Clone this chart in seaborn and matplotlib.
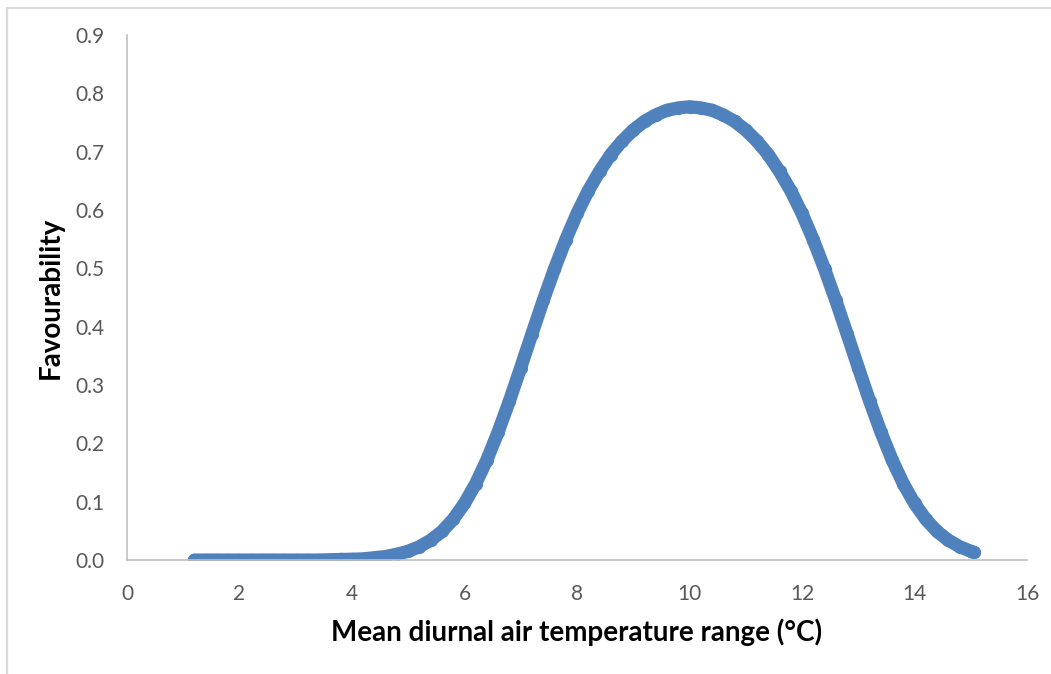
import numpy as np
import pandas as pd
import seaborn as sns
import matplotlib.pyplot as plt
from matplotlib.lines import Line2D

# values
temp_range = [1.2, 1.4, 1.6, 1.8, 2.0, 2.2, 2.4, 2.6, 2.8, 3.0, 3.2, 3.4, 3.6, 3.8,
              4.0, 4.2, 4.4, 4.6, 4.8, 5.0, 5.2, 5.4, 5.6, 5.8, 6.0, 6.2, 6.4, 6.6,
              6.8, 7.0, 7.2, 7.4, 7.6, 7.8, 8.0, 8.2, 8.4, 8.6, 8.8, 9.0, 9.2, 9.4,
              9.6, 9.8, 10.0, 10.2, 10.4, 10.6, 10.8, 11.0, 11.2, 11.4, 11.6, 11.8,
              12.0, 12.2, 12.4, 12.6, 12.8, 13.0, 13.2, 13.4, 13.6, 13.8, 14.0,
              14.2, 14.4, 14.6, 14.8, 15.0, 15.05]
favourability = [0.0, 0.0, 0.0, 0.0, 0.0, 0.0, 0.0, 0.0, 0.0, 0.0, 0.0, 0.0, 0.0005, 0.001,
                 0.0014, 0.002, 0.004, 0.006, 0.010, 0.015, 0.023, 0.034, 0.049, 0.070,
                 0.097, 0.131, 0.172, 0.220, 0.273, 0.330, 0.388, 0.445, 0.499, 0.549,
                 0.594, 0.633, 0.666, 0.695, 0.718, 0.737, 0.752, 0.763, 0.771, 0.775,
                 0.777, 0.775, 0.771, 0.763, 0.752, 0.737, 0.718, 0.695, 0.666, 0.633,
                 0.594, 0.549, 0.499, 0.445, 0.388, 0.330, 0.273, 0.220, 0.172, 0.131,
                 0.097, 0.070, 0.049, 0.034, 0.023, 0.015, 0.013]

x_ticks = [0, 2, 4, 6, 8, 10, 12, 14, 16]
y_ticks = [0.0, 0.1, 0.2, 0.3, 0.4, 0.5, 0.6, 0.7, 0.8, 0.9]

df = pd.DataFrame({'x': temp_range, 'y': favourability})

sns.set_theme(style='white')
plt.rcParams['font.family'] = ['Lato', 'DejaVu Sans']

blue = '#4F81BD'
grey = '#BFBFBF'

fig = plt.figure(figsize=(10.51, 6.74), dpi=100)
ax = fig.add_axes([0.1208, 0.1691, 0.8564, 0.7790])

# dense scatter in the original reads as a thick band
sns.lineplot(data=df, x='x', y='y', ax=ax, color=blue, linewidth=9.5,
             solid_capstyle='round', solid_joinstyle='round')
sns.scatterplot(data=df, x='x', y='y', ax=ax, color=blue, s=92, linewidth=0)

ax.set_xlim(0, 16)
ax.set_ylim(0, 0.9)
ax.set_xticks(x_ticks)
ax.set_yticks(y_ticks)
ax.set_xticklabels([str(t) for t in x_ticks])
ax.set_yticklabels([f'{t:.1f}' for t in y_ticks])
ax.tick_params(axis='both', length=0, labelsize=15, labelcolor='#595959')
ax.tick_params(axis='x', pad=17)
ax.tick_params(axis='y', pad=16)

for side in ['top', 'right']:
    ax.spines[side].set_visible(False)
for side in ['left', 'bottom']:
    ax.spines[side].set_color(grey)
    ax.spines[side].set_linewidth(1.2)

ax.set_xlabel('Mean diurnal air temperature range (°C)', fontsize=20,
              fontweight='bold', color='black')
ax.set_ylabel('Favourability', fontsize=20, fontweight='bold', color='black')
ax.xaxis.set_label_coords(0.5, -0.112)
ax.yaxis.set_label_coords(-0.070, 0.5)

# light chart-area frame (top and left edges visible)
fig.add_artist(Line2D([0.0071, 1.0], [0.9874, 0.9874], color='#D9D9D9',
                      linewidth=1.6, transform=fig.transFigure))
fig.add_artist(Line2D([0.0071, 0.0071], [0.0, 0.9874], color='#D9D9D9',
                      linewidth=1.6, transform=fig.transFigure))

fig.savefig('out.png', dpi=100)
